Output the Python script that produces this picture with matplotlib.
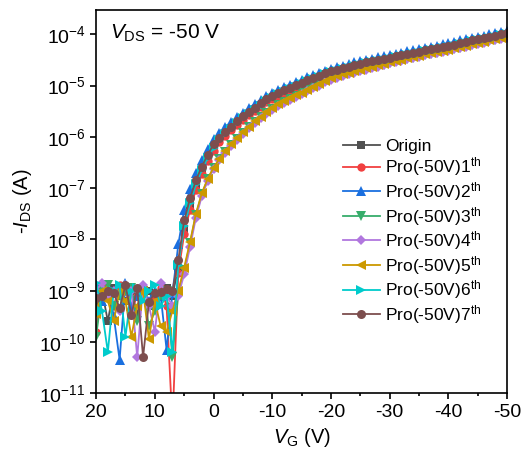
#!/usr/bin/env python3
import numpy as np
import matplotlib.pyplot as plt
from matplotlib.ticker import LogLocator, LogFormatterMathtext, MultipleLocator

plt.rcParams['font.family'] = ['Liberation Sans', 'DejaVu Sans']
plt.rcParams['mathtext.fontset'] = 'custom'
plt.rcParams['mathtext.rm'] = 'Liberation Sans'
plt.rcParams['mathtext.it'] = 'Liberation Sans:italic'
plt.rcParams['axes.unicode_minus'] = False

# gate voltage, 20 V down to -50 V in 1 V steps
vg = list(range(20, -51, -1))

# log10(-I_DS)
# off state: VG = 20 ... 7
off_origin = [-9.30, -9.00, -9.60, -8.95, -9.10, -9.20, -9.00, -9.45, -9.05, -9.00, -9.30, -9.10, -8.95, -9.10]
off_p1 = [-9.80, -8.90, -9.05, -9.30, -8.90, -9.00, -9.40, -9.10, -9.00, -9.20, -9.10, -8.95, -9.30, -11.60]
off_p2 = [-8.90, -9.20, -8.95, -9.50, -10.35, -8.85, -9.30, -9.10, -9.00, -9.20, -9.00, -9.10, -10.15, -9.05]
off_p3 = [-9.90, -9.00, -8.90, -9.30, -9.10, -9.00, -8.95, -9.60, -9.00, -9.70, -9.40, -9.10, -9.00, -10.30]
off_p4 = [-9.00, -8.85, -9.10, -9.00, -9.40, -8.90, -9.00, -10.30, -8.90, -9.30, -9.80, -8.85, -9.10, -9.30]
off_p5 = [-9.45, -9.00, -9.20, -9.60, -9.00, -9.20, -9.90, -9.30, -9.00, -9.95, -9.20, -9.70, -9.80, -9.40]
off_p6 = [-8.85, -9.40, -10.20, -9.00, -8.90, -9.90, -9.00, -8.95, -9.20, -9.00, -8.90, -9.30, -9.10, -10.20]
off_p7 = [-9.15, -9.10, -9.00, -9.05, -9.34, -8.90, -9.48, -8.95, -10.30, -9.22, -9.05, -9.03, -8.96, -9.00]

# on state: VG = 6 ... -50
on_origin = [-8.55, -7.80, -7.33, -6.96, -6.67, -6.43, -6.22, -6.07, -5.95, -5.84, -5.74, -5.64, -5.55,
             -5.47, -5.39, -5.31, -5.24, -5.17, -5.12, -5.07, -5.02, -4.97, -4.92, -4.87, -4.83, -4.78,
             -4.74, -4.71, -4.68, -4.65, -4.62, -4.60, -4.57, -4.55, -4.52, -4.50, -4.48, -4.45, -4.43,
             -4.40, -4.38, -4.36, -4.33, -4.31, -4.29, -4.26, -4.24, -4.22, -4.19, -4.17, -4.14, -4.12,
             -4.10, -4.07, -4.05, -4.02, -4.00]
on_p1 = [-8.65, -7.90, -7.42, -7.03, -6.73, -6.48, -6.27, -6.11, -5.98, -5.87, -5.77, -5.67, -5.58,
         -5.49, -5.41, -5.33, -5.26, -5.20, -5.15, -5.10, -5.05, -5.00, -4.95, -4.90, -4.86, -4.81,
         -4.77, -4.74, -4.71, -4.68, -4.65, -4.63, -4.60, -4.58, -4.55, -4.53, -4.51, -4.48, -4.46,
         -4.43, -4.41, -4.39, -4.36, -4.34, -4.32, -4.29, -4.27, -4.25, -4.22, -4.20, -4.17, -4.15,
         -4.13, -4.10, -4.08, -4.05, -4.03]
on_p2 = [-8.10, -7.42, -7.02, -6.70, -6.45, -6.23, -6.05, -5.92, -5.81, -5.71, -5.62, -5.53, -5.44,
         -5.36, -5.28, -5.21, -5.14, -5.08, -5.03, -4.98, -4.93, -4.89, -4.84, -4.80, -4.75, -4.71,
         -4.67, -4.64, -4.61, -4.58, -4.55, -4.53, -4.50, -4.48, -4.45, -4.43, -4.41, -4.38, -4.36,
         -4.33, -4.31, -4.29, -4.26, -4.24, -4.22, -4.19, -4.17, -4.15, -4.12, -4.10, -4.07, -4.05,
         -4.03, -4.00, -3.98, -3.95, -3.93]
on_p3 = [-9.05, -8.60, -8.08, -7.52, -7.12, -6.83, -6.61, -6.44, -6.29, -6.16, -6.04, -5.92, -5.81,
         -5.71, -5.62, -5.53, -5.45, -5.38, -5.32, -5.26, -5.20, -5.15, -5.09, -5.03, -4.98, -4.92,
         -4.87, -4.83, -4.79, -4.76, -4.73, -4.70, -4.67, -4.64, -4.61, -4.59, -4.56, -4.53, -4.51,
         -4.48, -4.46, -4.43, -4.40, -4.38, -4.36, -4.33, -4.31, -4.28, -4.26, -4.23, -4.20, -4.18,
         -4.16, -4.13, -4.11, -4.08, -4.06]
on_p4 = [-9.10, -8.68, -8.15, -7.58, -7.16, -6.86, -6.63, -6.46, -6.31, -6.18, -6.06, -5.94, -5.83,
         -5.73, -5.64, -5.55, -5.47, -5.40, -5.34, -5.28, -5.22, -5.17, -5.11, -5.05, -5.00, -4.94,
         -4.89, -4.85, -4.81, -4.78, -4.75, -4.72, -4.69, -4.66, -4.63, -4.60, -4.57, -4.54, -4.52,
         -4.49, -4.47, -4.44, -4.41, -4.39, -4.37, -4.34, -4.32, -4.29, -4.27, -4.24, -4.21, -4.19,
         -4.17, -4.14, -4.12, -4.09, -4.07]
on_p5 = [-9.00, -8.55, -8.05, -7.50, -7.10, -6.82, -6.60, -6.43, -6.28, -6.15, -6.03, -5.91, -5.80,
         -5.70, -5.61, -5.52, -5.44, -5.37, -5.31, -5.25, -5.19, -5.14, -5.08, -5.02, -4.97, -4.91,
         -4.86, -4.82, -4.78, -4.75, -4.72, -4.69, -4.66, -4.63, -4.60, -4.58, -4.55, -4.52, -4.50,
         -4.47, -4.45, -4.42, -4.39, -4.37, -4.35, -4.32, -4.30, -4.27, -4.25, -4.22, -4.19, -4.17,
         -4.15, -4.12, -4.10, -4.07, -4.05]
on_p6 = [-8.50, -7.75, -7.30, -6.93, -6.65, -6.41, -6.21, -6.07, -5.95, -5.84, -5.74, -5.64, -5.55,
         -5.47, -5.39, -5.31, -5.24, -5.17, -5.12, -5.07, -5.02, -4.97, -4.92, -4.87, -4.83, -4.78,
         -4.74, -4.71, -4.68, -4.65, -4.62, -4.60, -4.57, -4.55, -4.52, -4.50, -4.48, -4.45, -4.43,
         -4.40, -4.38, -4.36, -4.33, -4.31, -4.29, -4.26, -4.24, -4.22, -4.19, -4.17, -4.14, -4.12,
         -4.10, -4.07, -4.05, -4.02, -4.00]
on_p7 = [-8.40, -7.63, -7.20, -6.85, -6.58, -6.35, -6.15, -6.02, -5.90, -5.80, -5.70, -5.60, -5.51,
         -5.43, -5.35, -5.27, -5.20, -5.14, -5.09, -5.04, -4.99, -4.95, -4.90, -4.85, -4.81, -4.76,
         -4.72, -4.69, -4.66, -4.63, -4.60, -4.58, -4.55, -4.53, -4.50, -4.48, -4.46, -4.43, -4.41,
         -4.38, -4.36, -4.34, -4.31, -4.29, -4.27, -4.24, -4.22, -4.20, -4.17, -4.15, -4.12, -4.10,
         -4.08, -4.05, -4.03, -4.00, -3.98]

labels = ['Origin', r'Pro(-50V)1$^{\rm th}$', r'Pro(-50V)2$^{\rm th}$', r'Pro(-50V)3$^{\rm th}$',
          r'Pro(-50V)4$^{\rm th}$', r'Pro(-50V)5$^{\rm th}$', r'Pro(-50V)6$^{\rm th}$',
          r'Pro(-50V)7$^{\rm th}$']
colors = ['#515151', '#F14040', '#1A6FDF', '#37AD6B', '#B177DE', '#CC9900', '#00CBCC', '#7D4E4E']
markers = ['s', 'o', '^', 'v', 'D', '<', '>', 'o']
sizes = [5.5, 6, 6.5, 6.5, 5.5, 6.5, 6.5, 6.5]
offs = [off_origin, off_p1, off_p2, off_p3, off_p4, off_p5, off_p6, off_p7]
ons = [on_origin, on_p1, on_p2, on_p3, on_p4, on_p5, on_p6, on_p7]

fig = plt.figure(figsize=(5.31, 4.63), dpi=100)
ax = fig.add_axes([0.181, 0.151, 0.774, 0.827])

for lab, c, m, s, a, b in zip(labels, colors, markers, sizes, offs, ons):
    ids = 10.0 ** np.array(a + b)
    ax.plot(vg, ids, color=c, marker=m, markersize=s, markeredgewidth=0,
            linewidth=1.3, label=lab)

ax.set_yscale('log')
ax.set_xlim(20, -50)
ax.set_ylim(1e-11, 2.95e-4)
ax.xaxis.set_major_locator(MultipleLocator(10))
ax.xaxis.set_minor_locator(MultipleLocator(5))
ax.yaxis.set_major_locator(LogLocator(base=10, numticks=20))
ax.yaxis.set_minor_locator(plt.NullLocator())
ax.yaxis.set_major_formatter(LogFormatterMathtext())
ax.tick_params(which='both', direction='out', top=False, right=False, labelsize=14)
ax.tick_params(which='major', length=4, width=1.2)
ax.tick_params(which='minor', length=2.5, width=1.2)
for sp in ax.spines.values():
    sp.set_linewidth(1.2)

ax.set_xlabel(r'$\mathit{V}_{\rm G}$ (V)', fontsize=14.5)
ax.set_ylabel(r'-$\mathit{I}_{\rm DS}$ (A)', fontsize=14.5)
ax.text(0.035, 0.94, r'$\mathit{V}_{\rm DS}$ = -50 V', transform=ax.transAxes,
        fontsize=15, va='center', ha='left')

ax.legend(loc='center left', bbox_to_anchor=(0.58, 0.42), frameon=False, fontsize=12.5,
          handlelength=2.1, handletextpad=0.3, labelspacing=0.1, borderpad=0)

fig.savefig('out.png', dpi=100)
